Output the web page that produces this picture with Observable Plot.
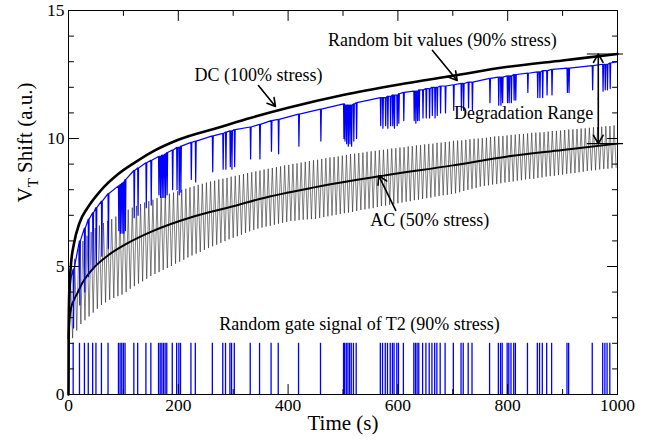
<!DOCTYPE html>
<html><head><meta charset="utf-8">
<script src="https://cdn.jsdelivr.net/npm/d3@7"></script>
<script src="https://cdn.jsdelivr.net/npm/@observablehq/plot@0.6"></script>
<style>html,body{margin:0;padding:0;background:#fff;} svg{display:block}</style>
</head><body><div id="chart"></div>
<script>
// ---- DC (100% stress) curve
const dcT = [0, 0.3, 1, 2, 5, 10, 20, 35, 58, 90, 120, 150, 200, 277, 331, 400, 500, 600, 700, 800, 900, 1000];
const dcV = [0, 2.5, 3.7, 4.3, 5.2, 5.9, 6.7, 7.3, 7.95, 8.6, 9.05, 9.45, 9.95, 10.45, 10.8, 11.2, 11.7, 12.1, 12.45, 12.8, 13.05, 13.3];
// ---- AC (50% stress) mean curve
const acMeanT = [0, 2, 5, 10, 16, 25, 46, 70, 107, 150, 228, 300, 350, 450, 574, 700, 800, 900, 1000];
const acMeanV = [2.2, 3.0, 3.4, 3.7, 3.95, 4.35, 4.95, 5.4, 5.9, 6.35, 6.95, 7.35, 7.65, 8.1, 8.55, 8.95, 9.3, 9.55, 9.8];
// ---- AC sawtooth: period (s), peak and trough values per cycle
const acPeriod = 7.5;
const acPeaks = [
 4.4, 5.3, 5.7, 6.0, 6.2, 6.35, 6.5, 6.6, 6.7, 6.78,
 6.85, 6.95, 7.04, 7.13, 7.22, 7.3, 7.37, 7.44, 7.5, 7.55,
 7.61, 7.67, 7.73, 7.78, 7.84, 7.89, 7.94, 8.0, 8.04, 8.09,
 8.14, 8.19, 8.23, 8.28, 8.32, 8.35, 8.4, 8.43, 8.46, 8.51,
 8.54, 8.57, 8.61, 8.65, 8.68, 8.72, 8.75, 8.79, 8.82, 8.85,
 8.88, 8.91, 8.95, 8.97, 9.01, 9.03, 9.06, 9.09, 9.12, 9.15,
 9.17, 9.2, 9.23, 9.26, 9.28, 9.3, 9.33, 9.36, 9.39, 9.41,
 9.43, 9.45, 9.48, 9.5, 9.52, 9.54, 9.56, 9.58, 9.61, 9.62,
 9.65, 9.66, 9.69, 9.7, 9.73, 9.74, 9.77, 9.79, 9.8, 9.83,
 9.84, 9.86, 9.88, 9.91, 9.92, 9.93, 9.95, 9.97, 9.99, 10.0,
 10.01, 10.03, 10.06, 10.08, 10.09, 10.1, 10.12, 10.14, 10.15, 10.17,
 10.18, 10.2, 10.22, 10.23, 10.24, 10.25, 10.27, 10.29, 10.3, 10.31,
 10.33, 10.35, 10.36, 10.37, 10.39, 10.4, 10.42, 10.44, 10.45, 10.46,
 10.48, 10.49, 10.51];
const acTroughs = [
 0, 2.2, 2.5, 2.75, 2.9, 3.05, 3.2, 3.35, 3.5, 3.6,
 3.7, 3.77, 3.84, 3.9, 4.0, 4.13, 4.23, 4.33, 4.42, 4.52,
 4.63, 4.71, 4.78, 4.87, 4.94, 5.02, 5.11, 5.19, 5.26, 5.35,
 5.43, 5.5, 5.57, 5.65, 5.72, 5.79, 5.85, 5.92, 5.99, 6.06,
 6.12, 6.18, 6.24, 6.31, 6.37, 6.43, 6.48, 6.52, 6.56, 6.59,
 6.63, 6.67, 6.71, 6.74, 6.78, 6.79, 6.81, 6.83, 6.84, 6.85,
 6.86, 6.9, 6.93, 6.96, 6.99, 7.02, 7.05, 7.08, 7.1, 7.13,
 7.17, 7.21, 7.23, 7.26, 7.28, 7.32, 7.36, 7.38, 7.41, 7.43,
 7.47, 7.5, 7.53, 7.55, 7.59, 7.61, 7.64, 7.67, 7.69, 7.73,
 7.75, 7.78, 7.8, 7.83, 7.86, 7.9, 7.95, 7.99, 8.03, 8.07,
 8.12, 8.15, 8.17, 8.2, 8.22, 8.25, 8.28, 8.3, 8.32, 8.35,
 8.37, 8.4, 8.42, 8.43, 8.46, 8.48, 8.51, 8.53, 8.54, 8.57,
 8.59, 8.62, 8.64, 8.65, 8.68, 8.7, 8.73, 8.75, 8.76, 8.79,
 8.81, 8.82, 8.84, 8.87];
// ---- Random gate signal (times of the gate pulses) and the random-bit curve
const gateT = [
 8.5, 20, 29, 36, 44, 50, 60, 72, 91, 94,
 97, 100, 103, 119, 126, 141, 150, 164, 167, 170,
 173, 176, 179, 189, 197, 201, 204, 223, 231, 262,
 281, 286, 294, 297, 302, 331, 348, 369, 382, 419,
 459, 501, 503, 506, 509, 512, 515, 519, 524, 568,
 572, 577, 581, 586, 590, 593, 598, 601, 610, 629,
 632, 635, 638, 645, 651, 657, 662, 667, 671, 677,
 686, 701, 715, 719, 728, 735, 767, 783, 787, 790,
 799, 802, 806, 811, 814, 836, 854, 858, 863, 871,
 880, 908, 911, 954, 973, 977, 981, 986];
const blueTop = [
 4.9, 6.0, 6.5, 6.85, 7.1, 7.3, 7.55, 7.85, 8.15, 8.2,
 8.25, 8.3, 8.4, 8.75, 8.85, 9.05, 9.15, 9.3, 9.3, 9.35,
 9.35, 9.4, 9.45, 9.55, 9.65, 9.65, 9.7, 9.85, 9.9, 10.1,
 10.2, 10.25, 10.3, 10.3, 10.35, 10.45, 10.55, 10.7, 10.75, 10.95,
 11.15, 11.35, 11.3, 11.3, 11.3, 11.3, 11.3, 11.35, 11.4, 11.6,
 11.6, 11.6, 11.65, 11.65, 11.7, 11.7, 11.7, 11.75, 11.8, 11.85,
 11.85, 11.85, 11.9, 11.9, 11.95, 11.95, 12.0, 12.0, 12.0, 12.05,
 12.05, 12.1, 12.15, 12.15, 12.2, 12.2, 12.35, 12.4, 12.4, 12.4,
 12.45, 12.45, 12.45, 12.5, 12.5, 12.55, 12.6, 12.6, 12.65, 12.65,
 12.7, 12.75, 12.75, 12.85, 12.9, 12.9, 12.9, 12.95];
const blueBot = [
 2.6, 3.5, 4.0, 4.6, 4.9, 5.1, 5.4, 5.7, 6.4, 6.3,
 6.3, 6.3, 6.4, 6.9, 7.0, 7.3, 7.4, 7.8, 7.7, 7.7,
 7.7, 7.7, 7.8, 8.0, 8.0, 7.8, 7.9, 8.4, 8.3, 8.7,
 8.8, 8.8, 8.9, 8.8, 8.9, 9.2, 9.2, 9.5, 9.4, 9.7,
 9.9, 10.0, 9.9, 9.8, 9.7, 9.8, 9.7, 9.9, 10.0, 10.5,
 10.4, 10.5, 10.4, 10.5, 10.5, 10.4, 10.5, 10.6, 10.7, 10.7,
 10.6, 10.7, 10.7, 10.8, 10.8, 10.8, 10.9, 10.8, 10.9, 11.0,
 11.0, 11.1, 11.1, 11.1, 11.2, 11.1, 11.4, 11.3, 11.3, 11.4,
 11.4, 11.4, 11.4, 11.5, 11.5, 11.8, 11.6, 11.6, 11.6, 11.7,
 11.7, 11.8, 11.8, 11.9, 11.85, 11.9, 11.9, 11.95];
const blueStartT = [0, 0.5, 2, 5];
const blueStartV = [0, 2.5, 3.9, 4.6];
const blueEndT = [1000];
const blueEndV = [13.0];
const gateHigh = 2;
// ---- axes
const xMajor = [0, 200, 400, 600, 800, 1000];
const xMinor = [100, 300, 500, 700, 900];
const yMajor = [0, 5, 10, 15];
const yMinor = [1, 2, 3, 4, 6, 7, 8, 9, 11, 12, 13, 14];
const xTitle = "Time (s)";
const yTitle = "V_T Shift (a.u.)";
// ---- annotations
const labels = [
  {x: 681, y: 13.83, text: "Random bit values (90% stress)"},
  {x: 346, y: 12.46, text: "DC (100% stress)"},
  {x: 829, y: 11.0, text: "Degradation Range"},
  {x: 658, y: 6.8, text: "AC (50% stress)"},
  {x: 530, y: 2.73, text: "Random gate signal of T2 (90% stress)"}
];
const pointers = [
  {x1: 346, y1: 12.07, x2: 377, y2: 11.25},
  {x1: 663, y1: 13.44, x2: 708, y2: 12.27},
  {x1: 596, y1: 7.19, x2: 565, y2: 8.55},
  {x1: 965, y1: 11.55, x2: 965, y2: 13.3},
  {x1: 965, y1: 11.55, x2: 965, y2: 9.8}
];
const rangeLevels = [13.3, 9.8];

// ---- tables built from the arrays
const dcRows = dcT.map((t, i) => ({t, v: dcV[i]}));
const acMeanRows = acMeanT.map((t, i) => ({t, v: acMeanV[i]}));
const acRows = [];
acTroughs.forEach((v, i) => {
  acRows.push({t: i * acPeriod, v});
  if (i < acPeaks.length) acRows.push({t: i * acPeriod + acPeriod / 2, v: acPeaks[i]});
});
const blueRows = blueStartT.map((t, i) => ({t, v: blueStartV[i]}));
gateT.forEach((t, i) => {
  blueRows.push({t, v: blueTop[i]});
  blueRows.push({t: t + 0.7, v: blueBot[i]});
  blueRows.push({t: t + 1.6, v: blueTop[i]});
});
blueEndT.forEach((t, i) => blueRows.push({t, v: blueEndV[i]}));

const tickShape = {draw(context, l) { context.moveTo(0, 0); context.lineTo(0, -l); }};
const tickMarks = (data, ch, anchor, rotate, len) =>
  Plot.vector(data, {[ch]: d => d, frameAnchor: anchor, rotate, length: len, anchor: "start",
    shape: tickShape, stroke: "#000", strokeWidth: 1});

const font = "Liberation Serif, Times New Roman, serif";
const chart = Plot.plot({
  width: 660, height: 443,
  marginLeft: 68, marginRight: 43, marginTop: 10, marginBottom: 49,
  x: {domain: [0, 1000], axis: null},
  y: {domain: [0, 15], axis: null},
  style: {fontFamily: font, background: "#fff", color: "#000", overflow: "visible"},
  marks: [
    Plot.line(acRows, {x: "t", y: "v", stroke: "#1a1a1a", strokeWidth: 0.55}),
    Plot.line(acMeanRows, {x: "t", y: "v", stroke: "#000", strokeWidth: 2, curve: "monotone-x"}),
    Plot.line(blueRows, {x: "t", y: "v", stroke: "#0000ff", strokeWidth: 1.2}),
    Plot.line(dcRows, {x: "t", y: "v", stroke: "#000", strokeWidth: 2.6, curve: "monotone-x"}),
    Plot.ruleX(gateT, {x: d => d, y1: 0, y2: gateHigh, stroke: "#0000ff", strokeWidth: 1.3}),
    Plot.frame({stroke: "#000", strokeWidth: 1}),
    tickMarks(xMajor, "x", "bottom", 0, 10),
    tickMarks(xMinor, "x", "bottom", 0, 5),
    tickMarks(xMajor, "x", "top", 180, 10),
    tickMarks(xMinor, "x", "top", 180, 5),
    tickMarks(yMajor, "y", "left", 90, 10),
    tickMarks(yMinor, "y", "left", 90, 5),
    tickMarks(yMajor, "y", "right", -90, 10),
    tickMarks(yMinor, "y", "right", -90, 5),
    Plot.text(xMajor, {x: d => d, frameAnchor: "bottom", dy: 16, text: d => String(d), fontSize: 17.5, fontFamily: font, fill: "#000"}),
    Plot.text(yMajor, {y: d => d, frameAnchor: "left", dx: -4, textAnchor: "end", text: d => String(d), fontSize: 17.5, fontFamily: font, fill: "#000"}),
    Plot.text([xTitle], {frameAnchor: "bottom", dy: 35, text: d => d, fontSize: 21, fontFamily: font, fill: "#000"}),
    Plot.text([yTitle], {frameAnchor: "left", dx: -43, rotate: -90, text: d => d, fontSize: 21, fontFamily: font, fill: "#000"}),
    Plot.ruleY(rangeLevels, {y: d => d, x1: 945, x2: 1011, stroke: "#000", strokeWidth: 1.2}),
    Plot.arrow(pointers, {x1: "x1", y1: "y1", x2: "x2", y2: "y2", stroke: "#000", strokeWidth: 1.6, headLength: 9}),
    Plot.text(labels, {x: "x", y: "y", text: "text", fontSize: 18, fontFamily: font, fill: "#000"})
  ]
});
// subscript T in the y title
const ns = "http://www.w3.org/2000/svg";
for (const t of chart.querySelectorAll("text")) {
  if (t.textContent === yTitle) {
    t.textContent = "";
    const a = document.createElementNS(ns, "tspan"); a.textContent = "V";
    const b = document.createElementNS(ns, "tspan"); b.textContent = "T";
    b.setAttribute("dy", "6"); b.setAttribute("font-size", "15");
    const c = document.createElementNS(ns, "tspan"); c.textContent = " Shift (a.u.)";
    c.setAttribute("dy", "-6");
    t.append(a, b, c);
  }
}
document.getElementById("chart").append(chart);
</script>
</body></html>
